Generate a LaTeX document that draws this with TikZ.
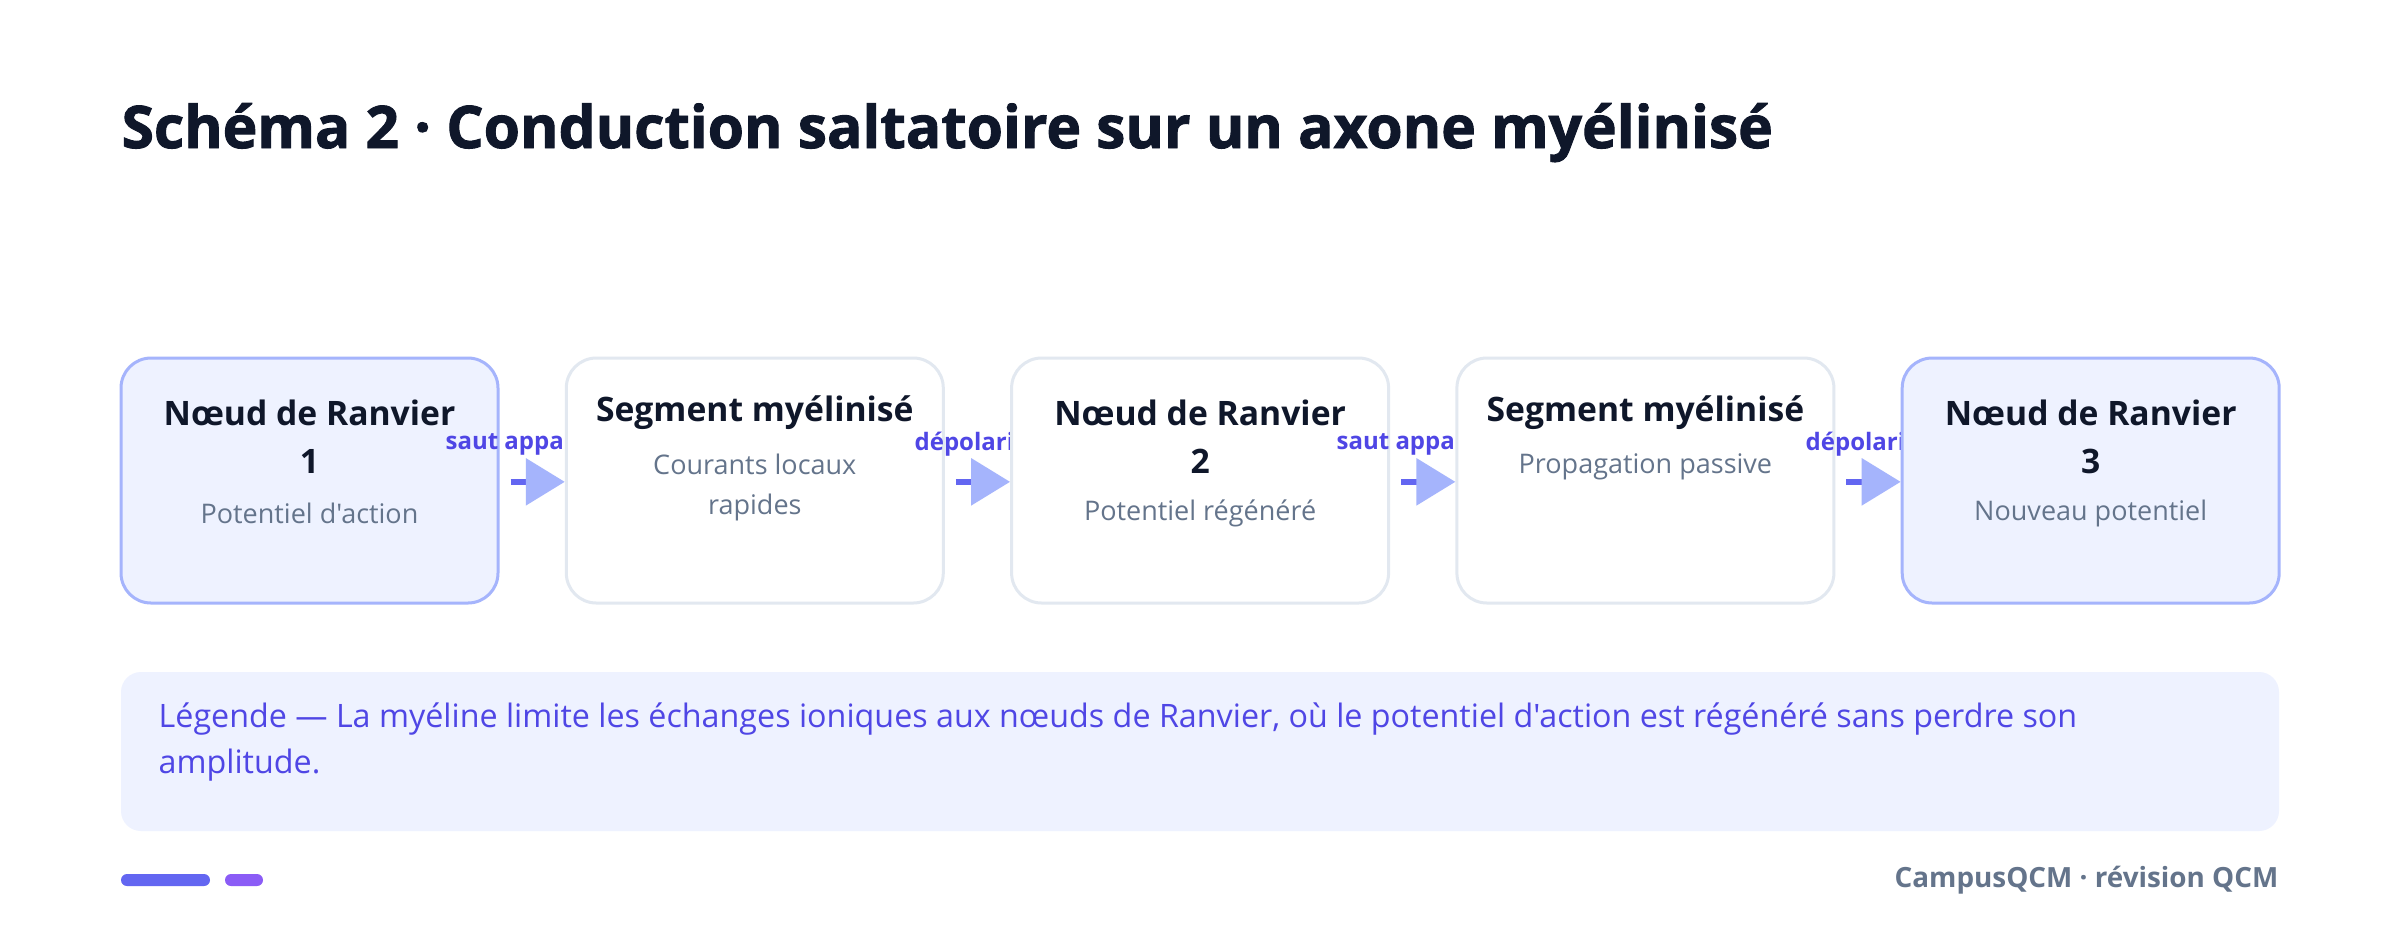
\documentclass[tikz,border=0pt]{standalone}
\usepackage{fontspec}
\setmainfont{Open Sans}[Ligatures=TeXOff]
\newfontfamily\heavyfont{Open Sans}[Ligatures=TeXOff,FakeBold=1.6]
\usetikzlibrary{arrows.meta}
\definecolor{ink}{HTML}{0F172A}
\definecolor{slate}{HTML}{64748B}
\definecolor{rfill}{HTML}{EEF2FF}
\definecolor{rborder}{HTML}{A5B4FC}
\definecolor{sborder}{HTML}{E2E8F0}
\definecolor{indigoA}{HTML}{4F46E5}
\definecolor{indigoB}{HTML}{6366F1}
\definecolor{violetA}{HTML}{8B5CF6}
\begin{document}
\begin{tikzpicture}[x=0.3pt,y=-0.3pt,
  ranvier/.style={draw=rborder,fill=rfill,line width=0.9pt,rounded corners=9pt,minimum width=113.1pt,minimum height=73.5pt,inner sep=0pt},
  segbox/.style={draw=sborder,fill=white,line width=0.9pt,rounded corners=9pt,minimum width=113.1pt,minimum height=73.5pt,inner sep=0pt},
  boxtitle/.style={text=ink,font=\fontsize{10.1}{12}\selectfont\bfseries,inner sep=0pt,anchor=center},
  boxsub/.style={text=slate,font=\fontsize{8.1}{12}\selectfont,inner sep=0pt,anchor=center,align=center},
  steplabel/.style={text=indigoA,font=\fontsize{7.2}{8}\selectfont\bfseries,inner sep=0pt,anchor=west},
  link/.style={line width=1.8pt,draw=indigoB,-{Triangle[length=11.7pt,width=13.8pt,color=rborder]}}
]
\useasboundingbox[fill=white] (0,0) rectangle (2400,942);
% title
\node[anchor=base west,inner sep=0pt,text=ink,font=\heavyfont\fontsize{17.6}{20}\selectfont\bfseries] (title) at (121,148) {Schéma 2 · Conduction saltatoire sur un axone myélinisé};
% box 1
\node[ranvier] (b1) at (309.5,480.5) {};
\node[boxtitle] (t1) at (309.5,413) {Nœud de Ranvier};
\node[boxtitle] (n1) at (309.5,461) {1};
\node[boxsub] (s1) at (309.5,513) {Potentiel d'action};
\node[steplabel] (l1) at (445,444) {saut appa};
% box 2
\node[segbox] (b2) at (754.8,480.5) {};
\node[boxtitle] (t2) at (754.8,413) {Segment myélinisé};
\node[boxsub] (s2) at (754.8,487) {Courants locaux\\rapides};
\node[steplabel] (l2) at (914,444) {dépolari};
% box 3
\node[segbox] (b3) at (1200.1,480.5) {};
\node[boxtitle] (t3) at (1200.1,413) {Nœud de Ranvier};
\node[boxtitle] (n3) at (1200.1,461) {2};
\node[boxsub] (s3) at (1200.1,513) {Potentiel régénéré};
\node[steplabel] (l3) at (1336,444) {saut appa};
% box 4
\node[segbox] (b4) at (1645.4,480.5) {};
\node[boxtitle] (t4) at (1645.4,413) {Segment myélinisé};
\node[boxsub] (s4) at (1645.4,467) {Propagation passive};
\node[steplabel] (l4) at (1805,444) {dépolari};
% box 5
\node[ranvier] (b5) at (2090.7,480.5) {};
\node[boxtitle] (t5) at (2090.7,413) {Nœud de Ranvier};
\node[boxtitle] (n5) at (2090.7,461) {3};
\node[boxsub] (s5) at (2090.7,513) {Nouveau potentiel};
% arrows
\draw[link] ([xshift=3.3pt,yshift=-0.4pt]b1.east) -- ([yshift=-0.4pt]b2.west);
\draw[link] ([xshift=3.3pt,yshift=-0.4pt]b2.east) -- ([yshift=-0.4pt]b3.west);
\draw[link] ([xshift=3.3pt,yshift=-0.4pt]b3.east) -- ([yshift=-0.4pt]b4.west);
\draw[link] ([xshift=3.3pt,yshift=-0.4pt]b4.east) -- ([yshift=-0.4pt]b5.west);
% legend
\node[fill=rfill,rounded corners=6pt,minimum width=647.4pt,minimum height=47.7pt,inner sep=0pt] (leg) at (1200,751.5) {};
\node[anchor=west,inner sep=0pt,text=indigoA,font=\fontsize{9.68}{13.8}\selectfont,align=left] (legtxt) at (158,742) {Légende — La myéline limite les échanges ioniques aux nœuds de Ranvier, où le potentiel d'action est régénéré sans perdre son\\amplitude.};
% footer
\node[fill=indigoB,rounded corners=1.8pt,minimum width=26.7pt,minimum height=3.6pt,inner sep=0pt] (p1) at (165.5,880) {};
\node[fill=violetA,rounded corners=1.8pt,minimum width=11.4pt,minimum height=3.6pt,inner sep=0pt] (p2) at (244,880) {};
\node[anchor=east,inner sep=0pt,text=slate,font=\fontsize{8.35}{9}\selectfont\bfseries] (foot) at (2279,880) {CampusQCM · révision QCM};
\end{tikzpicture}
\end{document}
